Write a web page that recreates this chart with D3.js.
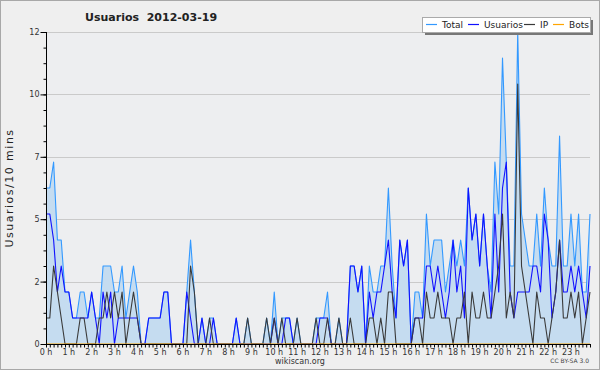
<!DOCTYPE html>
<html>
<head>
<meta charset="utf-8">
<script src="https://cdn.jsdelivr.net/npm/d3@7"></script>
<style>
body { margin: 0; background: #fff; }
svg text { font-family: "DejaVu Sans", sans-serif; fill: #222; }
</style>
</head>
<body>
<svg id="chart" width="600" height="370"></svg>
<script>
// editors per 10 minute slot, one row per hour (6 slots)
var total = [
    6,6,7,4,4,2,  2,1,1,2,2,1,  2,1,1,3,3,3,  2,2,3,1,2,3,
    2,0,0,1,1,1,  1,2,2,0,0,0,  0,2,4,2,0,1,  0,1,1,0,0,0,
    0,0,1,0,0,1,  0,0,0,0,1,0,  2,0,1,1,1,0,  1,0,0,0,0,1,
    1,1,2,0,0,1,  0,0,3,3,2,3,  0,3,2,2,3,3,  6,3,1,4,3,4,
    0,2,2,1,5,3,  4,4,4,2,3,4,  3,4,3,6,4,5,  3,5,3,2,7,5,
    11,7,3,3,12,5, 4,3,3,5,3,6, 4,3,3,8,3,3,  5,3,5,2,2,5
];
var usuarios = [
    5,5,4,2,3,2,  2,1,1,1,1,1,  2,1,0,2,1,2,  0,1,1,1,1,1,
    1,0,0,1,1,1,  1,2,2,0,0,0,  0,2,1,0,0,1,  0,0,1,0,0,0,
    0,0,1,0,0,0,  0,0,0,0,0,0,  1,0,0,1,1,0,  0,0,0,0,0,0,
    1,1,1,0,0,0,  0,0,3,3,2,3,  0,2,1,2,2,3,  4,2,1,4,3,4,
    0,1,1,1,3,3,  2,3,2,1,2,4,  2,3,1,6,4,5,  3,5,3,1,5,2,
    6,7,2,1,2,2,  2,2,3,3,2,5,  4,1,2,4,2,2,  3,2,3,2,1,3
];
var ip = [
    1,1,3,2,1,0,  0,0,0,1,1,0,  0,0,1,1,2,1,  2,1,2,0,1,2,
    1,0,0,0,0,0,  0,0,0,0,0,0,  0,0,3,2,0,0,  0,1,0,0,0,0,
    0,0,0,0,0,1,  0,0,0,0,1,0,  1,0,1,0,0,0,  1,0,0,0,0,1,
    0,0,1,0,0,1,  0,0,1,0,0,0,  0,1,1,0,1,0,  2,2,0,0,0,0,
    0,1,1,0,2,1,  1,2,1,1,1,0,  1,1,2,0,2,1,  1,2,1,1,2,3,
    5,1,2,1,10,3, 2,1,0,2,1,1,  0,1,2,4,1,1,  2,1,2,0,1,2
];
var bots = [
    0,0,0,0,0,0,  0,0,0,0,0,0,  0,0,0,0,0,0,  0,0,0,0,0,0,
    0,0,0,0,0,0,  0,0,0,0,0,0,  0,0,0,0,0,0,  0,0,0,0,0,0,
    0,0,0,0,0,0,  0,0,0,0,0,0,  0,0,0,0,0,0,  0,0,0,0,0,0,
    0,0,0,0,0,0,  0,0,0,0,0,0,  0,0,0,0,0,0,  0,0,0,0,0,0,
    0,0,0,0,0,0,  0,0,0,0,0,0,  0,0,0,0,0,0,  0,0,0,0,0,0,
    0,0,0,0,0,0,  0,0,0,0,0,0,  0,0,0,0,0,0,  0,0,0,0,0,0
];
var hourLabels = ["0 h","1 h","2 h","3 h","4 h","5 h","6 h","7 h","8 h","9 h","10 h","11 h",
                  "12 h","13 h","14 h","15 h","16 h","17 h","18 h","19 h","20 h","21 h","22 h","23 h"];
var yTickValues = [0, 2.4, 4.8, 7.2, 9.6, 12];
var yTickLabels = ["0", "2", "5", "7", "10", "12"];
var seriesNames = ["Total", "Usuarios", "IP", "Bots"];
var seriesColors = ["#3399ff", "#1111ff", "#3a3a3a", "#ffa500"];

(function() {
    var svg = d3.select("#chart");
    var W = 600, H = 370;
    // plot box (careful: "top" is taken by window.top at global scope)
    var pl = 46, pr = 590, pt = 32, pb = 344;

    var x = d3.scaleLinear().domain([0, total.length - 1]).range([pl, pr]);
    var y = d3.scaleLinear().domain([0, 12]).range([pb, pt]);

    // frame + backgrounds
    svg.append("rect").attr("x", 0.5).attr("y", 0.5).attr("width", W - 1).attr("height", H - 1)
        .attr("fill", "#efefef").attr("stroke", "#a8a8a8");
    svg.append("rect").attr("x", pl).attr("y", pt).attr("width", pr - pl).attr("height", pb - pt)
        .attr("fill", "#edeef0");

    // grid
    svg.append("g").selectAll("line").data(yTickValues.slice(1)).enter().append("line")
        .attr("x1", pl).attr("x2", pr)
        .attr("y1", function(d) { return Math.round(y(d)) + 0.5; })
        .attr("y2", function(d) { return Math.round(y(d)) + 0.5; })
        .attr("stroke", "#cacaca");

    // area under total
    var area = d3.area()
        .x(function(d, i) { return x(i); })
        .y0(y(0))
        .y1(function(d) { return y(d); });
    svg.append("path").datum(total).attr("d", area).attr("fill", "#c5dcf0");

    var line = d3.line()
        .x(function(d, i) { return x(i); })
        .y(function(d) { return y(d); });

    [total, usuarios, ip, bots].forEach(function(s, k) {
        svg.append("path").datum(s).attr("d", line)
            .attr("fill", "none")
            .attr("stroke", seriesColors[k])
            .attr("stroke-width", 1.1)
            .attr("stroke-linejoin", "round");
    });

    // y axis: major ticks every 2.4, minor every 0.6
    var yAxis = d3.axisLeft(y).tickValues(yTickValues).tickSize(6).tickPadding(1)
        .tickFormat(function(d, i) { return yTickLabels[i]; });
    var gy = svg.append("g").attr("transform", "translate(" + (pl + 0.5) + ",0)").call(yAxis);
    gy.select(".domain").remove();
    gy.selectAll("line").attr("stroke", "#000");
    gy.selectAll("text").attr("font-size", 8).attr("dy", "0.3em").style("fill", "#333");
    var gm = svg.append("g").attr("transform", "translate(" + (pl + 0.5) + ",0)")
        .call(d3.axisLeft(y).tickValues(d3.range(0, 12.01, 0.6)).tickSize(3).tickFormat(""));
    gm.select(".domain").remove();
    gm.selectAll("line").attr("stroke", "#000");
    svg.append("line").attr("x1", pl + 0.5).attr("x2", pl + 0.5).attr("y1", pt).attr("y2", pb + 1)
        .attr("stroke", "#000");

    // x axis: one tick per slot, label per hour
    var gx = svg.append("g").attr("transform", "translate(0," + (pb + 0.5) + ")")
        .call(d3.axisBottom(x).tickValues(d3.range(0, total.length)).tickSize(3).tickFormat(""));
    gx.select(".domain").remove();
    gx.selectAll("line").attr("stroke", "#000");
    svg.append("line").attr("x1", pl).attr("x2", pr + 1).attr("y1", pb + 0.5).attr("y2", pb + 0.5)
        .attr("stroke", "#000");
    svg.append("g").selectAll("text").data(hourLabels).enter().append("text")
        .attr("x", function(d, i) { return x(i * 6); })
        .attr("y", pb + 11)
        .attr("text-anchor", "middle")
        .attr("font-size", 8)
        .style("fill", "#333")
        .text(function(d) { return d; });

    // titles
    svg.append("text").attr("x", 85).attr("y", 21).attr("font-size", 11).attr("font-weight", "bold")
        .style("white-space", "pre")
        .text("Usuarios  2012-03-19");
    svg.append("text").attr("transform", "translate(13,188)rotate(-90)")
        .attr("text-anchor", "middle").attr("font-size", 11)
        .attr("letter-spacing", 1.5)
        .attr("font-family", "DejaVu Sans Mono")
        .text("Usuarios/10 mins");
    svg.append("text").attr("x", 300).attr("y", 364).attr("text-anchor", "middle").attr("font-size", 8)
        .style("fill", "#333").text("wikiscan.org");
    svg.append("text").attr("x", 589).attr("y", 363).attr("text-anchor", "end").attr("font-size", 6)
        .style("fill", "#444").text("CC BY-SA 3.0");

    // legend with drop shadow
    var lg = svg.append("g");
    lg.append("rect").attr("x", 425).attr("y", 20).attr("width", 168).attr("height", 15).attr("fill", "#777");
    lg.append("rect").attr("x", 422.5).attr("y", 17.5).attr("width", 168).attr("height", 15)
        .attr("fill", "#fff").attr("stroke", "#aaa");
    var legendX = [426, 468, 524, 553];
    seriesNames.forEach(function(name, k) {
        lg.append("line").attr("x1", legendX[k]).attr("x2", legendX[k] + 11)
            .attr("y1", 24.5).attr("y2", 24.5).attr("stroke", seriesColors[k]).attr("stroke-width", 1.2);
        lg.append("text").attr("x", legendX[k] + 16).attr("y", 28).attr("font-size", 9).text(name);
    });
})();
</script>
</body>
</html>
